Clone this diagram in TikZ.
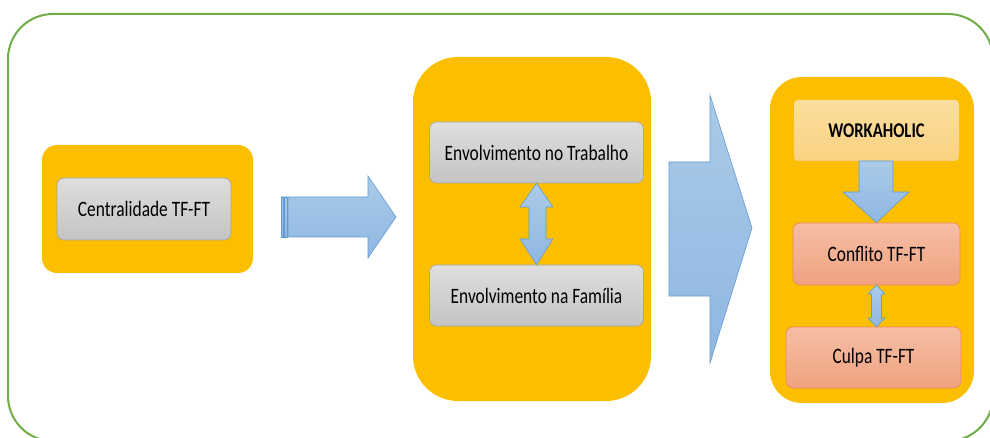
\documentclass[tikz,border=0pt]{standalone}
\usepackage{graphicx}
\usepackage{fontspec}
\setmainfont{Carlito}
\newcommand{\sqz}[1]{\scalebox{0.79}[1]{#1}}
\begin{document}
\begin{tikzpicture}[x=1pt,y=-1pt,
  panel/.style={fill=orangeY, draw=none, rounded corners=#1},
  graybox/.style={top color=grayT, bottom color=grayB, draw=grayL, line width=0.6pt, rounded corners=7pt, font=\fontsize{22}{26}\selectfont, text=black},
  salmonbox/.style={top color=salT, bottom color=salB, draw=salL, line width=0.6pt, rounded corners=7pt, font=\fontsize{22}{26}\selectfont, text=black},
  blockarrow/.style={top color=bluT, bottom color=bluB, draw=bluL, line width=0.6pt, line join=miter},
]
\definecolor{orangeY}{RGB}{252,191,0}
\definecolor{grayT}{RGB}{222,222,222}
\definecolor{grayB}{RGB}{196,196,196}
\definecolor{grayL}{RGB}{165,165,165}
\definecolor{salT}{RGB}{246,190,165}
\definecolor{salB}{RGB}{240,162,128}
\definecolor{salL}{RGB}{236,135,100}
\definecolor{bluT}{RGB}{170,203,232}
\definecolor{bluB}{RGB}{143,183,226}
\definecolor{bluL}{RGB}{100,155,210}
\definecolor{greenB}{RGB}{112,173,71}
\definecolor{workT}{RGB}{251,222,158}
\definecolor{workB}{RGB}{250,210,130}

\useasboundingbox (0,0) rectangle (990,438);
\clip (0,0) rectangle (990,438);

% outer frame
\draw[greenB, line width=2pt, rounded corners=45pt] (8,14) rectangle (993,441);

% panels
\fill[panel=15pt] (42,145) rectangle (253,273);
\fill[panel=45pt] (413,57) rectangle (651,401);
\fill[panel=32pt] (770,77) rectangle (974,403);

% boxes
\node[graybox, minimum width=174pt, minimum height=62pt] (cent) at (144,209) {\sqz{Centralidade TF-FT}};
\node[graybox, minimum width=214pt, minimum height=61pt] (trab) at (536.5,152.5) {\sqz{Envolvimento no Trabalho}};
\node[graybox, minimum width=214pt, minimum height=61pt] (fam) at (536.5,295.5) {\sqz{Envolvimento na Família}};
\node[draw=none, top color=workT, bottom color=workB, rounded corners=4pt, minimum width=165pt, minimum height=61pt, font=\fontsize{21}{25}\selectfont\bfseries] (work) at (876.5,130.5) {\sqz{WORKAHOLIC}};
\node[salmonbox, minimum width=167pt, minimum height=62pt] (conf) at (876.5,254) {\sqz{Conflito TF-FT}};
\node[salmonbox, minimum width=175pt, minimum height=61pt] (culpa) at (873.5,357.5) {\sqz{Culpa TF-FT}};

% arrow 1 (striped tail)
\path[blockarrow] (288,197) -- (368,197) -- (368,176) -- (396,217) -- (368,258) -- (368,237) -- (288,237) -- cycle;
\path[blockarrow] (281,197) rectangle (283.5,237);
\path[blockarrow] (284.5,197) rectangle (287,237);

% arrow 2 (big)
\path[blockarrow] (669,162) -- (710,162) -- (710,95) -- (752,228) -- (710,363) -- (710,296) -- (669,296) -- cycle;

% double arrow between Trabalho and Familia
\path[blockarrow] (trab.south) -- (553,207) -- (546,207) -- (546,239) -- (553,239) -- (fam.north) -- (520,239) -- (529,239) -- (529,207) -- (520,207) -- cycle;

% down arrow workaholic -> conflito
\path[blockarrow] (859,161) -- (893,161) -- (893,192) -- (909,192) -- (conf.north) -- (843,192) -- (859,192) -- cycle;

% small double arrow conflito <-> culpa
\path[blockarrow] (876.5,285) -- (885,294) -- (881.5,294) -- (881.5,318) -- (885,318) -- (876.5,327) -- (868,318) -- (871.5,318) -- (871.5,294) -- (868,294) -- cycle;
\end{tikzpicture}
\end{document}
